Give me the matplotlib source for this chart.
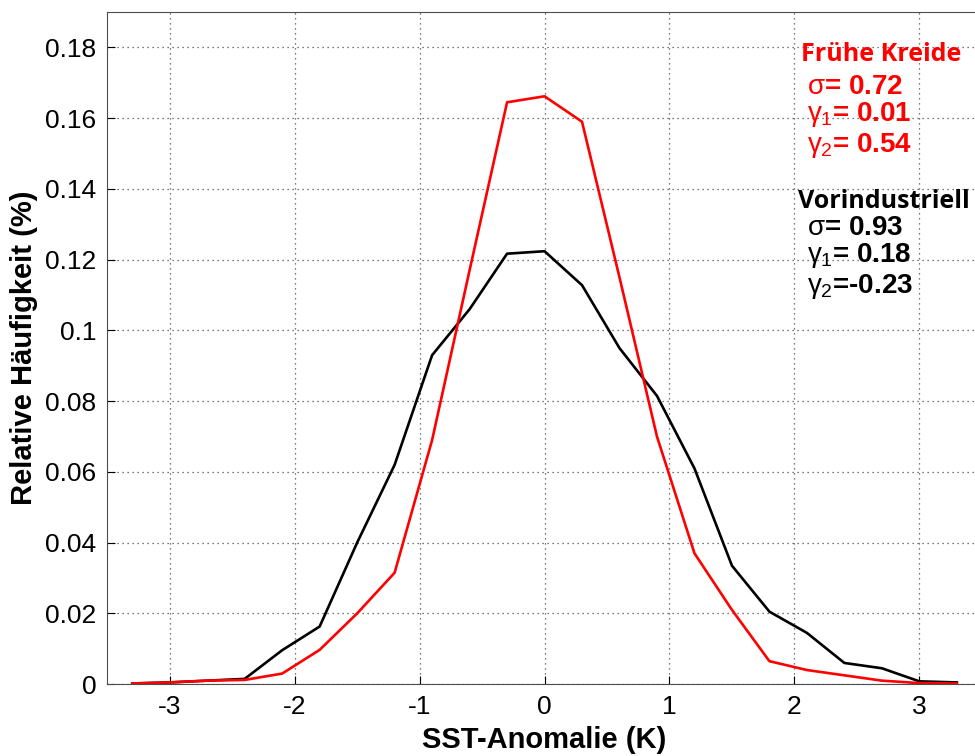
import matplotlib
matplotlib.use("Agg")
import matplotlib.pyplot as plt

plt.rcParams['font.family'] = ['Liberation Sans', 'DejaVu Sans']
plt.rcParams['mathtext.fontset'] = 'custom'
plt.rcParams['mathtext.rm'] = 'Liberation Sans'
plt.rcParams['mathtext.it'] = 'Liberation Sans'
plt.rcParams['mathtext.bf'] = 'Liberation Sans:bold'

# SST anomaly bins (K)
sst = [-3.3, -3.0, -2.7, -2.4, -2.1, -1.8, -1.5, -1.2, -0.9, -0.6, -0.3, 0.0,
       0.3, 0.6, 0.9, 1.2, 1.5, 1.8, 2.1, 2.4, 2.7, 3.0, 3.3]

# relative frequency, early cretaceous (red)
kreide = [0.0002, 0.0005, 0.001, 0.0012, 0.003, 0.0097, 0.020, 0.0315, 0.069, 0.117,
          0.1645, 0.1662, 0.159, 0.115, 0.070, 0.037, 0.021, 0.0065, 0.004, 0.0025,
          0.001, 0.0003, 0.0002]

# relative frequency, pre-industrial (black)
vorind = [0.0002, 0.0005, 0.001, 0.0015, 0.0096, 0.0163, 0.040, 0.062, 0.093, 0.106,
          0.1217, 0.1224, 0.1128, 0.095, 0.0815, 0.061, 0.0335, 0.0205, 0.0145, 0.006,
          0.0045, 0.0008, 0.0005]

xticks = [-3, -2, -1, 0, 1, 2, 3]
yticks = [0, 0.02, 0.04, 0.06, 0.08, 0.1, 0.12, 0.14, 0.16, 0.18]
ylabels = ['0', '0.02', '0.04', '0.06', '0.08', '0.1', '0.12', '0.14', '0.16', '0.18']

# statistics text (label, baseline y in data units)
kreide_stats = [(r'$\sigma$= 0.72', 0.1668), (r'$\gamma_1$= 0.01', 0.1591),
                (r'$\gamma_2$= 0.54', 0.1504)]
vorind_stats = [(r'$\sigma$= 0.93', 0.1269), (r'$\gamma_1$= 0.18', 0.1193),
                (r'$\gamma_2$=-0.23', 0.1105)]

fig = plt.figure(figsize=(9.75, 7.56), dpi=100)
ax = fig.add_axes([0.110, 0.095, 0.897, 0.889])

ax.plot(sst, vorind, color='black', lw=1.9)
ax.plot(sst, kreide, color='red', lw=1.9)

ax.set_xlim(-3.5, 3.5)
ax.set_ylim(0, 0.19)
ax.set_xticks(xticks)
ax.set_xticklabels([str(t) for t in xticks])
ax.set_yticks(yticks)
ax.set_yticklabels(ylabels)
ax.tick_params(direction='in', labelsize=19, length=6, width=0.8, pad=8)
ax.grid(True, linestyle=(0, (1, 3)), color='0.3', lw=0.9)
for s in ax.spines.values():
    s.set_linewidth(0.8)
    s.set_color('0.3')

ax.set_xlabel('SST-Anomalie (K)', fontsize=21, fontweight='bold', labelpad=5)
ax.set_ylabel('Relative Häufigkeit (%)', fontsize=21, fontweight='bold', labelpad=5)

# statistics annotations
ax.text(2.05, 0.1761, 'Frühe Kreide', color='red', fontsize=18, fontweight='bold',
        family='Open Sans', va='baseline')
for txt, y in kreide_stats:
    ax.text(2.10, y, txt, color='red', fontsize=20, fontweight='bold', va='baseline')

ax.text(2.03, 0.1345, 'Vorindustriell', color='black', fontsize=18, fontweight='bold',
        family='Open Sans', va='baseline')
for txt, y in vorind_stats:
    ax.text(2.10, y, txt, color='black', fontsize=20, fontweight='bold', va='baseline')

fig.savefig('out.png', dpi=100)
